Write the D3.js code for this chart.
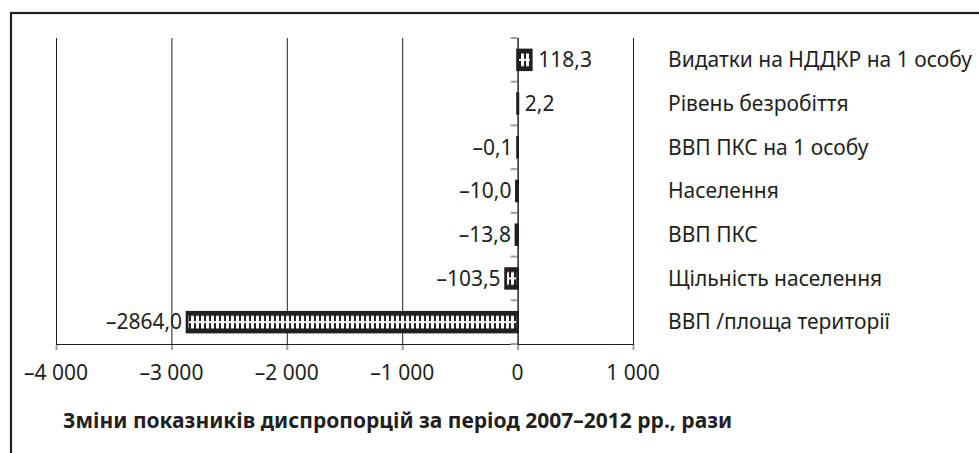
<!DOCTYPE html>
<html>
<head>
<meta charset="utf-8">
<script src="https://cdn.jsdelivr.net/npm/d3@7"></script>
<style>
  body { margin: 0; background: #fff; }
  text { font-family: "Noto Sans", "Open Sans", sans-serif; fill: #231f20; }
</style>
</head>
<body>
<svg id="chart" width="979" height="453"></svg>
<script>
// indicators, top to bottom as in the picture
const categories = [
    "Видатки на НДДКР на 1 особу",
    "Рівень безробіття",
    "ВВП ПКС на 1 особу",
    "Населення",
    "ВВП ПКС",
    "Щільність населення",
    "ВВП /площа території"
];
const values = [118.3, 2.2, -0.1, -10.0, -13.8, -103.5, -2864.0];
const xTicks = [-4000, -3000, -2000, -1000, 0, 1000];
const title = "Зміни показників диспропорцій за період 2007–2012 рр., рази";

const svg = d3.select("#chart");

const plotLeft = 56, plotRight = 633, plotTop = 38, plotBottom = 344;
const fontSize = 21;

const x = d3.scaleLinear().domain([-4000, 1000]).range([plotLeft, plotRight]);
const y = d3.scaleBand()
    .domain(categories)
    .range([plotTop, plotBottom])
    .paddingInner(0.55)
    .paddingOuter(0.275);

const uaLocale = d3.formatLocale({
    decimal: ",",
    thousands: "\u00a0",
    grouping: [3],
    currency: ["", ""],
    minus: "\u2013"
});
const tickFmt = uaLocale.format(",d");
const valFmt = uaLocale.format(".1f");

// frame (only left and top edges fall inside the picture)
svg.append("rect")
    .attr("x", 11)
    .attr("y", 13)
    .attr("width", 1200)
    .attr("height", 800)
    .attr("fill", "none")
    .attr("stroke", "#231f20")
    .attr("stroke-width", 2.2);

// vertical gridlines
svg.append("g")
    .selectAll("line")
    .data(xTicks)
    .join("line")
    .attr("x1", d => x(d) + 0.5)
    .attr("x2", d => x(d) + 0.5)
    .attr("y1", plotTop)
    .attr("y2", plotBottom)
    .attr("stroke", "#231f20")
    .attr("stroke-width", 1);

// x axis line and ticks
svg.append("line")
    .attr("x1", plotLeft)
    .attr("x2", plotRight + 1)
    .attr("y1", plotBottom + 0.5)
    .attr("y2", plotBottom + 0.5)
    .attr("stroke", "#231f20");

svg.append("g")
    .selectAll("line")
    .data(xTicks)
    .join("line")
    .attr("x1", d => x(d) + 0.5)
    .attr("x2", d => x(d) + 0.5)
    .attr("y1", plotBottom + 1)
    .attr("y2", plotBottom + 6)
    .attr("stroke", "#9d9fa2")
    .attr("stroke-width", 2);

svg.append("g")
    .selectAll("text")
    .data(xTicks)
    .join("text")
    .attr("x", d => x(d))
    .attr("y", 380)
    .attr("text-anchor", "middle")
    .attr("font-size", fontSize)
    .text(d => tickFmt(d));

// category ticks on the zero axis
const step = y.step();
svg.append("g")
    .selectAll("line")
    .data(d3.range(categories.length + 1))
    .join("line")
    .attr("x1", x(0) - 7)
    .attr("x2", x(0))
    .attr("y1", i => plotTop + i * step)
    .attr("y2", i => plotTop + i * step)
    .attr("stroke", "#9d9fa2")
    .attr("stroke-width", 2);

// pattern for the bars: black ground with rows of small white cells
const defs = svg.append("defs");
categories.forEach((c, i) => {
    const bh = y.bandwidth();
    const p = defs.append("pattern")
        .attr("id", "pat" + i)
        .attr("patternUnits", "userSpaceOnUse")
        .attr("x", 0)
        .attr("y", y(c))
        .attr("width", 5)
        .attr("height", bh);
    p.append("rect").attr("width", 5).attr("height", bh).attr("fill", "#231f20");
    p.append("rect").attr("x", 1).attr("y", 3.5).attr("width", 3).attr("height", bh / 2 - 4.5).attr("fill", "#fff");
    p.append("rect").attr("x", 0).attr("y", bh / 2 - 1).attr("width", 5).attr("height", 2).attr("fill", "#fff");
    p.append("rect").attr("x", 1).attr("y", bh / 2 + 1).attr("width", 3).attr("height", bh / 2 - 4.5).attr("fill", "#fff");
});

// bars
svg.append("g")
    .selectAll("rect")
    .data(values)
    .join("rect")
    .attr("x", d => x(Math.min(0, d)))
    .attr("y", (d, i) => y(categories[i]))
    .attr("width", d => Math.abs(x(d) - x(0)))
    .attr("height", y.bandwidth())
    .attr("fill", (d, i) => `url(#pat${i})`)
    .attr("stroke", "#231f20")
    .attr("stroke-width", 2.8);

// zero axis line
svg.append("line")
    .attr("x1", x(0) + 0.5)
    .attr("x2", x(0) + 0.5)
    .attr("y1", plotTop)
    .attr("y2", plotBottom)
    .attr("stroke", "#231f20")
    .attr("stroke-width", 1);

// value labels
svg.append("g")
    .selectAll("text")
    .data(values)
    .join("text")
    .attr("x", d => d >= 0 ? x(d) + 7 : x(d) - 5)
    .attr("y", (d, i) => y(categories[i]) + y.bandwidth() / 2)
    .attr("dy", "0.35em")
    .attr("text-anchor", d => d >= 0 ? "start" : "end")
    .attr("font-size", fontSize)
    .text(d => valFmt(d));

// category labels on the right
svg.append("g")
    .selectAll("text")
    .data(categories)
    .join("text")
    .attr("x", 668)
    .attr("y", d => y(d) + y.bandwidth() / 2)
    .attr("dy", "0.35em")
    .attr("font-size", fontSize)
    .text(d => d);

svg.append("text")
    .attr("x", 63)
    .attr("y", 428)
    .attr("font-size", fontSize)
    .attr("font-weight", "bold")
    .text(title);
</script>
</body>
</html>
